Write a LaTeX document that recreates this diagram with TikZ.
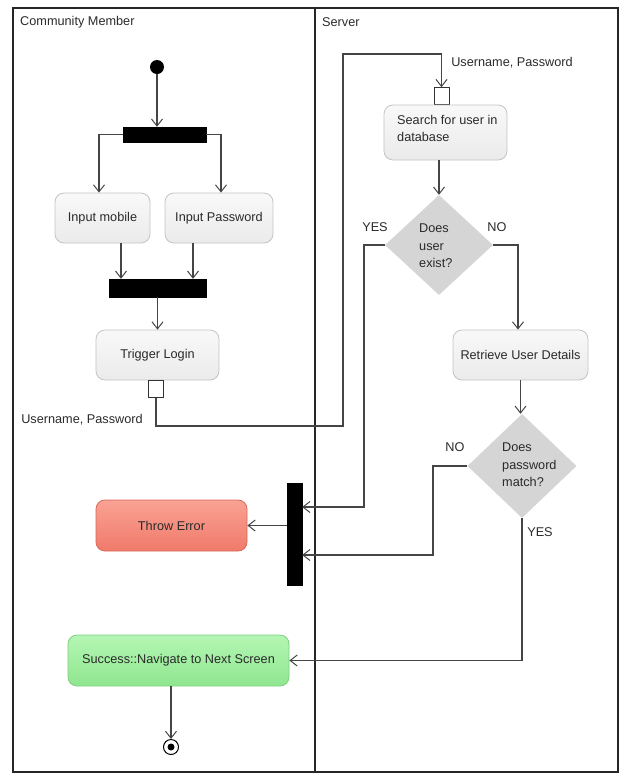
\documentclass[tikz,border=0pt]{standalone}
\usepackage{fontspec}
\setmainfont{Liberation Sans}
\usetikzlibrary{shapes.geometric,arrows.meta,calc}
\definecolor{lnc}{HTML}{454545}
\definecolor{txc}{HTML}{2A2A2A}
\definecolor{actb}{HTML}{C4C4C4}
\definecolor{dia}{HTML}{D5D5D5}
\definecolor{errtop}{HTML}{F9A294}
\definecolor{errbot}{HTML}{F07A6A}
\definecolor{errbd}{HTML}{D8695A}
\definecolor{oktop}{HTML}{B4F6B4}
\definecolor{okbot}{HTML}{8FE68F}
\definecolor{okbd}{HTML}{80CF80}
\tikzset{
  every node/.style={font=\fontsize{12.7}{17.5}\selectfont, text=txc},
  action/.style={draw=actb, line width=0.8pt, rounded corners=9pt, top color=white!95!gray, bottom color=white!84!gray, inner sep=0pt},
  errbox/.style={draw=errbd, line width=0.8pt, rounded corners=9pt, top color=errtop, bottom color=errbot, inner sep=0pt},
  okbox/.style={draw=okbd, line width=0.8pt, rounded corners=9pt, top color=oktop, bottom color=okbot, inner sep=0pt},
  barbox/.style={fill=black, draw=black, inner sep=0pt},
  pinbox/.style={draw=black!80, fill=white, line width=0.8pt, inner sep=0pt, minimum width=15pt, minimum height=17pt},
  decision/.style={diamond, fill=dia, draw=none, inner sep=0pt},
  flow/.style={draw=lnc, line width=1.1pt},
  arr/.style={flow, -{Straight Barb[length=7pt,width=11pt,line width=1pt]}},
  lane/.style={draw=black!85, line width=1.4pt},
  lbl/.style={inner sep=0pt}
}
\begin{document}
\begin{tikzpicture}[x=1pt,y=-1pt]
\useasboundingbox (0,0) rectangle (627,780);
% swimlanes
\draw[lane] (13,8) rectangle (618,772);
\coordinate (laneTop) at (315,8);
\coordinate (laneBot) at (315,772);
\draw[lane] (laneTop) -- (laneBot);
\node[lbl, anchor=west] (lanecm) at (20,22) {Community Member};
\node[lbl, anchor=west] (lanesrv) at (322,22) {Server};

% community member lane
\node[circle, fill=black, inner sep=0pt, minimum size=14pt] (start) at (157,67) {};
\node[barbox, minimum width=83pt, minimum height=15pt] (fork) at (164.5,134.5) {};
\node[action, minimum width=95pt, minimum height=50pt] (inmob) at (102.5,218) {Input mobile};
\node[action, minimum width=108pt, minimum height=50pt] (inpass) at (219,218) {Input Password};
\node[barbox, minimum width=97pt, minimum height=18pt] (join) at (157.5,288) {};
\node[action, minimum width=123pt, minimum height=50pt] (trig) at (157.5,355) {Trigger Login};
\node[pinbox, anchor=north] (pin1) at (156,380) {};
\node[lbl] (lab1) at (82,420) {Username, Password};
\node[errbox, minimum width=151pt, minimum height=51pt] (throw) at (171.5,525.5) {Throw Error};
\node[barbox, minimum width=15pt, minimum height=102pt] (bar) at (294.5,534) {};
\node[okbox, minimum width=221pt, minimum height=51pt] (succ) at (178.5,660.5) {Success::Navigate to Next Screen};
\node[circle, draw=black, line width=1pt, fill=white, minimum size=15pt, inner sep=0pt] (endn) at (171,747) {};
\node[circle, fill=black, minimum size=7pt, inner sep=0pt] (enddot) at (171,747) {};

% server lane
\node[pinbox, anchor=south] (pin2) at (441.5,105) {};
\node[lbl] (lab2) at (512,63) {Username, Password};
\node[action, minimum width=123pt, minimum height=55pt] (search) at (445.5,132.5) {};
\node[lbl, align=left, anchor=north west] (searchtxt) at (397,115) {Search for user in\\database};
\node[decision, minimum width=108pt, minimum height=100pt] (dia1) at (439,245) {};
\node[lbl, align=left, anchor=west] (dia1txt) at (419,246) {Does\\user\\exist?};
\node[lbl] (yes1) at (375,227) {YES};
\node[lbl] (no1) at (497,227) {NO};
\node[action, minimum width=135pt, minimum height=50pt] (retr) at (520.5,355) {Retrieve User Details};
\node[decision, minimum width=109pt, minimum height=104pt] (dia2) at (522,466) {};
\node[lbl, align=left, anchor=west] (dia2txt) at (502,465) {Does\\password\\match?};
\node[lbl] (no2) at (455,447) {NO};
\node[lbl] (yes2) at (540,532) {YES};

% connectors
\draw[arr] (start) -- (start |- fork.north);
\draw[arr] (fork.west) -| ([xshift=-3.5pt]inmob.north);
\draw[arr] (fork.east) -| ([xshift=2pt]inpass.north);
\draw[arr] ([xshift=18.5pt]inmob.south) -- ([xshift=18.5pt]inmob.south |- join.north);
\draw[arr] ([xshift=-26pt]inpass.south) -- ([xshift=-26pt]inpass.south |- join.north);
\draw[arr] (join.south) -- (trig.north);
\coordinate (v1) at (343,426);
\coordinate (v2) at (343,54);
\draw[arr] (pin1.south) |- (v1) -- (v2) -| (pin2.north);
\draw[arr] (dia1.north |- search.south) -- (dia1.north);
\coordinate (y1) at (364,507);
\draw[arr] (dia1.west) -| (y1) -- (y1 -| bar.east);
\draw[arr] (dia1.east) -| ([xshift=-2.5pt]retr.north);
\draw[arr] (retr.south) -- (retr.south |- dia2.north);
\coordinate (n2) at (433,555);
\draw[arr] (dia2.west) -| (n2) -- (n2 -| bar.east);
\draw[arr] (dia2.south) |- (succ.east);
\draw[arr] (bar.west |- throw.east) -- (throw.east);
\draw[arr] (endn |- succ.south) -- (endn.north);
\end{tikzpicture}
\end{document}
